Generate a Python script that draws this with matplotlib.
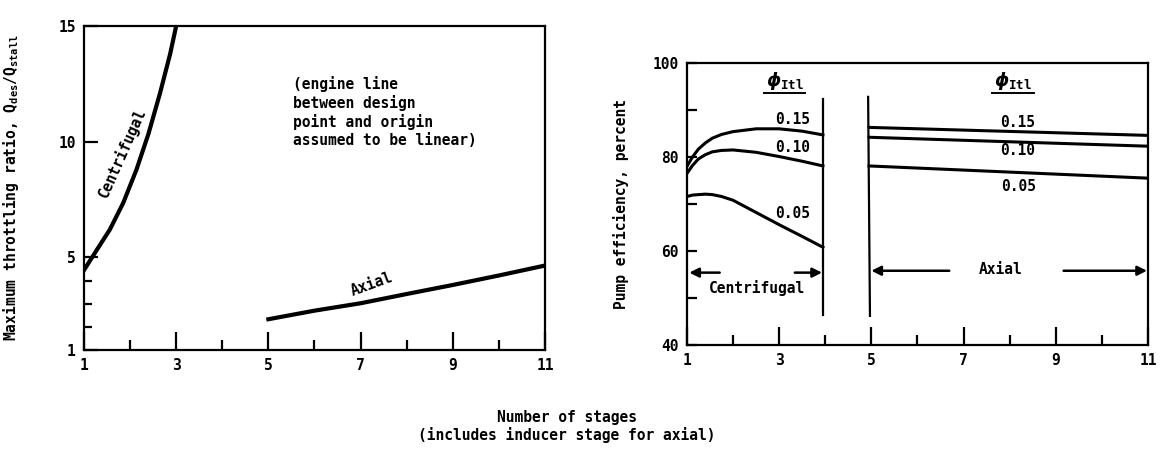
import numpy as np
import matplotlib
matplotlib.use('Agg')
import matplotlib.pyplot as plt
from matplotlib.ticker import FixedLocator, FuncFormatter

plt.rcParams['font.family'] = ['DejaVu Sans Mono', 'Liberation Mono']
plt.rcParams['font.weight'] = 'bold'
plt.rcParams['axes.labelweight'] = 'bold'
plt.rcParams['font.size'] = 10.5

# left panel - maximum throttling ratio
cent_x = [1.0, 1.27, 1.56, 1.85, 2.14, 2.40, 2.65, 2.87, 3.0]
cent_y = [4.45, 5.3, 6.2, 7.35, 8.8, 10.35, 12.1, 13.8, 15.0]
axial_x = [5, 6, 7, 8, 9, 10, 11]
axial_y = [2.33, 2.70, 3.02, 3.42, 3.81, 4.22, 4.65]

# right panel - pump efficiency (phi_Itl = 0.15, 0.10, 0.05)
phi_labels = ['0.15', '0.10', '0.05']
eff_cent_x = [1.0, 1.12, 1.25, 1.4, 1.55, 1.75, 2.0, 2.5, 3.0, 3.5, 3.95]
eff_cent = {
    '0.15': [78.0, 80.0, 81.7, 83.0, 84.0, 84.8, 85.4, 86.0, 86.0, 85.5, 84.7],
    '0.10': [76.5, 78.2, 79.6, 80.5, 81.1, 81.4, 81.5, 81.0, 80.1, 79.1, 78.1],
    '0.05': [71.6, 71.9, 72.0, 72.1, 72.0, 71.6, 70.8, 68.2, 65.6, 63.1, 60.8],
}
eff_axial_x = [4.95, 11.0]
eff_axial = {
    '0.15': [86.3, 84.6],
    '0.10': [84.2, 82.3],
    '0.05': [78.1, 75.5],
}

fig = plt.figure(figsize=(11.6, 4.51), dpi=100)
ax1 = fig.add_axes([0.0724, 0.2239, 0.3974, 0.7185])
ax2 = fig.add_axes([0.5922, 0.2350, 0.3974, 0.6253])

for ax in (ax1, ax2):
    for s in ax.spines.values():
        s.set_linewidth(1.6)
    ax.set_xlim(1, 11)
    ax.xaxis.set_major_locator(FixedLocator([1, 3, 5, 7, 9, 11]))
    ax.xaxis.set_minor_locator(FixedLocator([2, 4, 6, 8, 10]))
    ax.tick_params(axis='x', which='major', direction='in', length=13, width=1.6, pad=6)
    ax.tick_params(axis='x', which='minor', direction='in', length=7.5, width=1.6)

# ---- left
ax1.set_ylim(1, 15)
ax1.yaxis.set_major_locator(FixedLocator([1, 5, 10, 15]))
ax1.yaxis.set_minor_locator(FixedLocator([2, 3, 4]))
ax1.tick_params(axis='y', which='major', direction='in', length=10, width=1.6, pad=6)
ax1.tick_params(axis='y', which='minor', direction='in', length=6, width=1.6)

ax1.plot(cent_x, cent_y, color='black', lw=3)
ax1.plot(axial_x, axial_y, color='black', lw=3)
ax1.text(1.82, 9.5, 'Centrifugal', rotation=66, ha='center', va='center')
ax1.text(7.24, 3.85, 'Axial', rotation=20, ha='center', va='center')
ax1.text(5.54, 12.84, '(engine line\nbetween design\npoint and origin\nassumed to be linear)',
         ha='left', va='top', linespacing=1.25)
ax1.set_ylabel(r'Maximum throttling ratio, $\mathregular{Q_{des}/Q_{stall}}$')
ax1.yaxis.set_label_coords(-0.136, 0.5)

# ---- right
ax2.set_ylim(40, 100)
ax2.yaxis.set_major_locator(FixedLocator([40, 60, 80, 100]))
ax2.yaxis.set_minor_locator(FixedLocator([50, 70, 90]))
ax2.tick_params(axis='y', which='both', direction='in', length=7, width=1.6, pad=6)
ax2.yaxis.set_major_formatter(FuncFormatter(lambda v, p: '%d' % v))

for lab in phi_labels:
    ax2.plot(eff_cent_x, eff_cent[lab], color='black', lw=2.2)
    ax2.plot(eff_axial_x, eff_axial[lab], color='black', lw=2.2)

# divider lines between the two pump types
ax2.plot([3.95, 3.95], [46.4, 92.3], color='black', lw=1.6)
ax2.plot([4.93, 4.97], [92.8, 46.2], color='black', lw=1.6)

cent_lab_pos = {'0.15': (3.3, 87.9), '0.10': (3.3, 82.1), '0.05': (3.3, 68.0)}
axial_lab_pos = {'0.15': (8.17, 87.3), '0.10': (8.17, 81.3), '0.05': (8.2, 73.8)}
for lab in phi_labels:
    ax2.text(*cent_lab_pos[lab], lab, ha='center', va='center')
    ax2.text(*axial_lab_pos[lab], lab, ha='center', va='center')

for hx in (3.12, 8.07):
    ax2.text(hx, 96.2, r'$\phi_{\mathregular{Itl}}$', ha='center', va='center', fontsize=13)
    ax2.plot([hx - 0.45, hx + 0.45], [93.7, 93.7], color='black', lw=1.4)

arr = dict(arrowstyle='-|>', color='black', lw=1.8, mutation_scale=14, shrinkA=0, shrinkB=0)
ax2.annotate('', xy=(1.05, 55.4), xytext=(1.71, 55.4), arrowprops=arr)
ax2.annotate('', xy=(3.93, 55.4), xytext=(3.34, 55.4), arrowprops=arr)
ax2.text(2.51, 52.1, 'Centrifugal', ha='center', va='center')
ax2.annotate('', xy=(5.0, 55.8), xytext=(6.69, 55.8), arrowprops=arr)
ax2.annotate('', xy=(10.98, 55.8), xytext=(9.17, 55.8), arrowprops=arr)
ax2.text(7.81, 56.0, 'Axial', ha='center', va='center')

ax2.set_ylabel('Pump efficiency, percent')
ax2.yaxis.set_label_coords(-0.126, 0.5)

fig.text(0.4885, 0.054, 'Number of stages\n(includes inducer stage for axial)',
         ha='center', va='center', multialignment='center', linespacing=1.1)

fig.savefig('out.png', dpi=100, facecolor='white')
